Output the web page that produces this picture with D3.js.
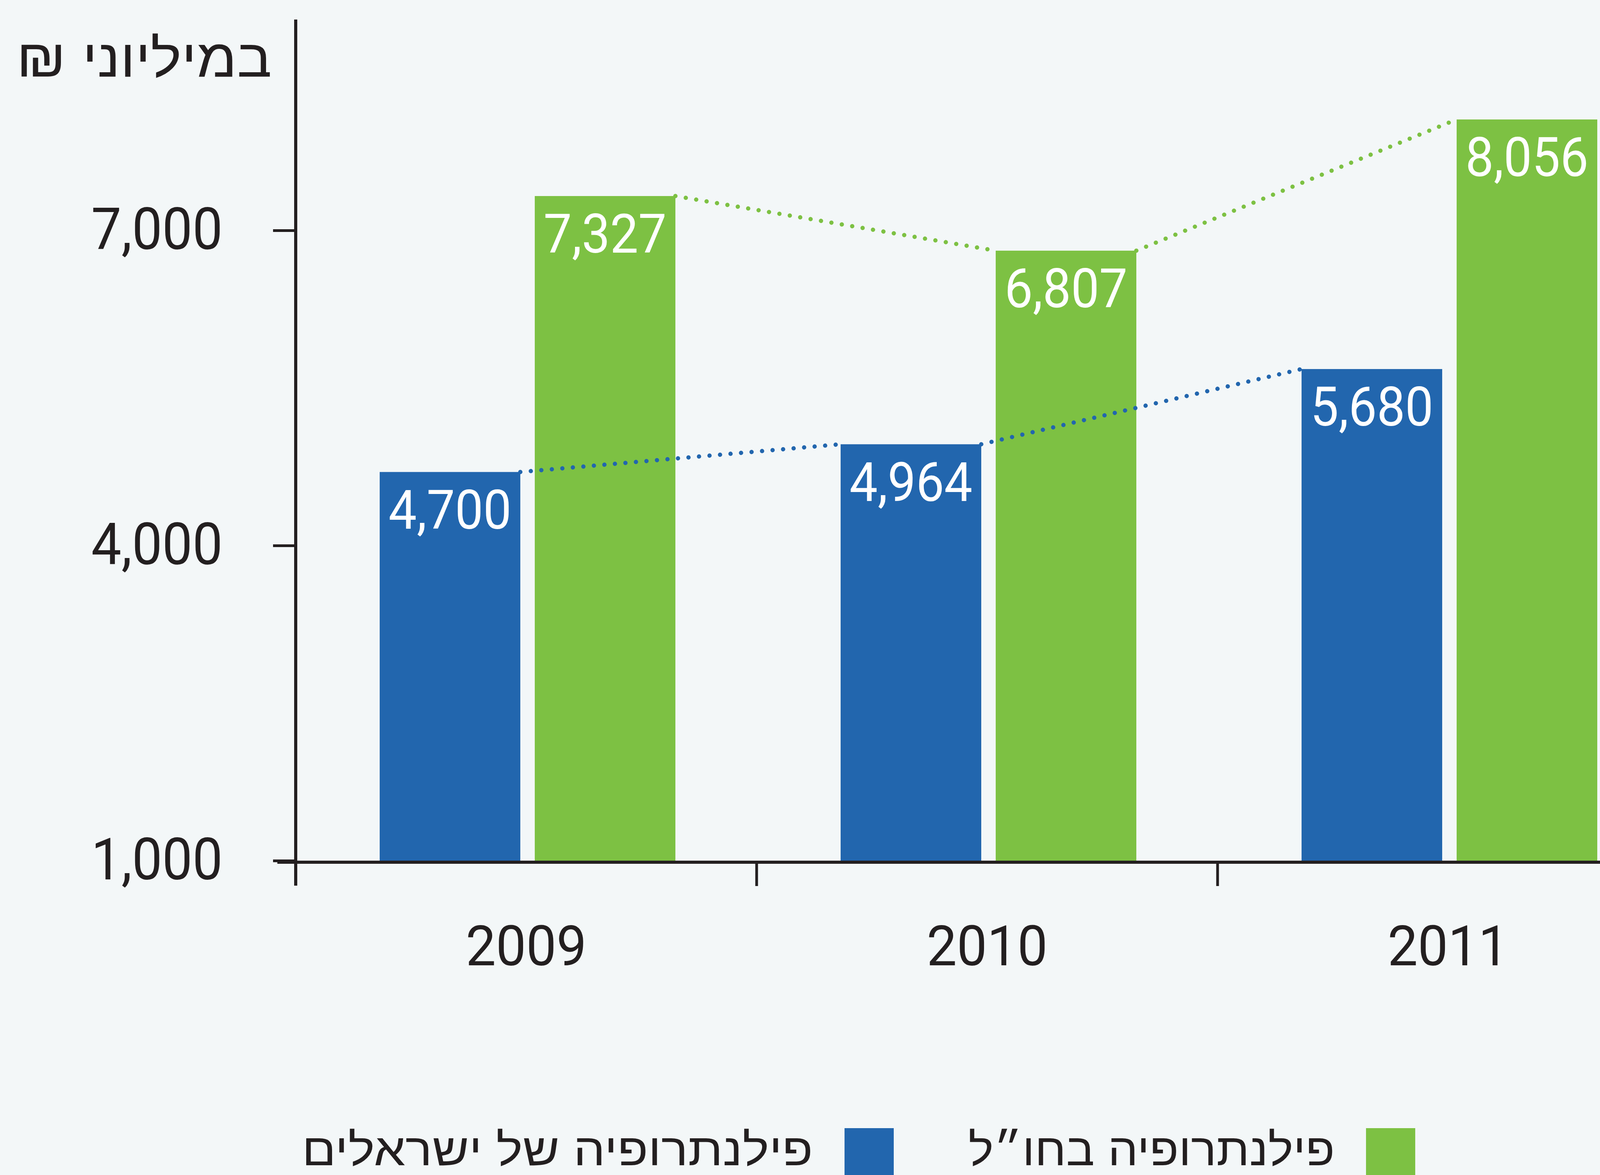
<!DOCTYPE html>
<html>
<head>
<meta charset="utf-8">
<script src="https://cdn.jsdelivr.net/npm/d3@7"></script>
<style>
  html, body { margin: 0; padding: 0; background: #f3f7f8; }
  svg { display: block; }
</style>
</head>
<body>
<svg id="chart" width="4283" height="3009"></svg>
<script>
// ---- data ----
const years = ['2009', '2010', '2011'];
const seriesKeys = ['israel', 'abroad'];
const israelValues = [4700, 4964, 5680];
const abroadValues = [7327, 6807, 8056];
const yTickValues = [1000, 4000, 7000];
const seriesLabels = ['פילנתרופיה של ישראלים', 'פילנתרופיה בחו״ל'];
const unitLabel = 'במיליוני ₪';

// ---- styles ----
const W = 4283, H = 3009;
const BG = '#f3f7f8';
const INK = '#231f20';
const COLORS = { israel: '#2266ae', abroad: '#7dc143' };
const NUM_FONT = 'Roboto, "Liberation Sans", sans-serif';
const HEB_FONT = '"Liberation Sans", "DejaVu Sans", sans-serif';

const svg = d3.select('#chart');
svg.append('rect').attr('width', W).attr('height', H).attr('fill', BG);

const values = { israel: israelValues, abroad: abroadValues };

// scales
const x0 = d3.scaleBand().domain(years).range([757, 4297]).padding(0);
const x1 = d3.scaleBand().domain(seriesKeys).range([215, 972]).paddingInner(37 / 397).paddingOuter(0);
const y = d3.scaleLinear().domain([1000, 9000]).range([2204, 52]);

function condense(sel, f) {
  sel.each(function () {
    const w = this.getComputedTextLength();
    this.setAttribute('textLength', w * f);
    this.setAttribute('lengthAdjust', 'spacingAndGlyphs');
  });
}

// bars
const groups = svg.append('g').selectAll('g').data(years).join('g')
  .attr('transform', d => `translate(${x0(d)},0)`);

groups.selectAll('rect')
  .data((d, i) => seriesKeys.map(k => ({ key: k, value: values[k][i] })))
  .join('rect')
  .attr('x', d => x1(d.key))
  .attr('width', x1.bandwidth())
  .attr('y', d => y(d.value))
  .attr('height', d => y(1000) - y(d.value))
  .attr('fill', d => COLORS[d.key]);

// dotted connectors between adjacent bars of the same series
const segs = [];
seriesKeys.forEach(k => {
  for (let i = 0; i < years.length - 1; i++) {
    segs.push({
      key: k,
      xa: x0(years[i]) + x1(k) + x1.bandwidth(),
      ya: y(values[k][i]),
      xb: x0(years[i + 1]) + x1(k),
      yb: y(values[k][i + 1])
    });
  }
});
svg.append('g').selectAll('line').data(segs).join('line')
  .attr('x1', d => d.xa).attr('y1', d => d.ya)
  .attr('x2', d => d.xb).attr('y2', d => d.yb)
  .attr('stroke', d => COLORS[d.key])
  .attr('stroke-width', 11)
  .attr('stroke-linecap', 'round')
  .attr('stroke-dasharray', '0.01 27');

// bar value labels
const fmt = d3.format(',');
const valLabels = groups.selectAll('text')
  .data((d, i) => seriesKeys.map(k => ({ key: k, value: values[k][i] })))
  .join('text')
  .attr('x', d => x1(d.key) + x1.bandwidth() / 2)
  .attr('y', d => y(d.value) + 145)
  .attr('text-anchor', 'middle')
  .attr('fill', '#ffffff')
  .attr('font-family', NUM_FONT)
  .attr('font-size', 140)
  .text(d => fmt(d.value));
condense(valLabels, 0.92);

// y axis
const yAxisG = svg.append('g').attr('transform', 'translate(757,0)')
  .call(d3.axisLeft(y).tickValues(yTickValues).tickSize(58).tickPadding(129).tickFormat(fmt));
yAxisG.select('.domain').remove();
yAxisG.selectAll('.tick line').attr('stroke', INK).attr('stroke-width', 7);
const yTickText = yAxisG.selectAll('.tick text')
  .attr('fill', INK).attr('font-family', NUM_FONT).attr('font-size', 148);
condense(yTickText, 0.93);

// vertical axis line (extends below baseline like the x ticks)
svg.append('line')
  .attr('x1', 757).attr('x2', 757)
  .attr('y1', y(9000) - 2).attr('y2', y(1000) + 64)
  .attr('stroke', INK).attr('stroke-width', 8);

// baseline
svg.append('line')
  .attr('x1', 710).attr('x2', W)
  .attr('y1', y(1000) + 4).attr('y2', y(1000) + 4)
  .attr('stroke', INK).attr('stroke-width', 8);

// x ticks at band boundaries
svg.append('g').selectAll('line').data(years.slice(1)).join('line')
  .attr('x1', d => x0(d)).attr('x2', d => x0(d))
  .attr('y1', y(1000) + 4).attr('y2', y(1000) + 65)
  .attr('stroke', INK).attr('stroke-width', 7);

// year labels
const yearLabels = svg.append('g').selectAll('text').data(years).join('text')
  .attr('x', d => x0(d) + x0.bandwidth() / 2)
  .attr('y', 2472)
  .attr('text-anchor', 'middle')
  .attr('fill', INK)
  .attr('font-family', NUM_FONT)
  .attr('font-size', 142)
  .text(d => d);
condense(yearLabels, 0.97);

// unit label (top-left)
svg.append('text')
  .attr('x', 696).attr('y', 196)
  .attr('direction', 'rtl')
  .style('direction', 'rtl')
  .attr('text-anchor', 'start')
  .attr('fill', INK)
  .attr('font-family', HEB_FONT)
  .attr('font-size', 136)
  .attr('textLength', 654)
  .attr('lengthAdjust', 'spacingAndGlyphs')
  .text(unitLabel);

// legend
const legendItems = [
  { key: 'israel', label: seriesLabels[0], sq: 2162, textRight: 2081, len: 1308 },
  { key: 'abroad', label: seriesLabels[1], sq: 3497, textRight: 3417, len: 938 }
];
const lg = svg.append('g').selectAll('g').data(legendItems).join('g');
lg.append('rect')
  .attr('x', d => d.sq).attr('y', 2889)
  .attr('width', 126).attr('height', 120)
  .attr('fill', d => COLORS[d.key]);
lg.append('text')
  .attr('x', d => d.textRight).attr('y', 2984)
  .attr('direction', 'rtl')
  .style('direction', 'rtl')
  .attr('text-anchor', 'start')
  .attr('fill', INK)
  .attr('font-family', HEB_FONT)
  .attr('font-size', 115)
  .attr('textLength', d => d.len)
  .attr('lengthAdjust', 'spacingAndGlyphs')
  .text(d => d.label);
</script>
</body>
</html>
